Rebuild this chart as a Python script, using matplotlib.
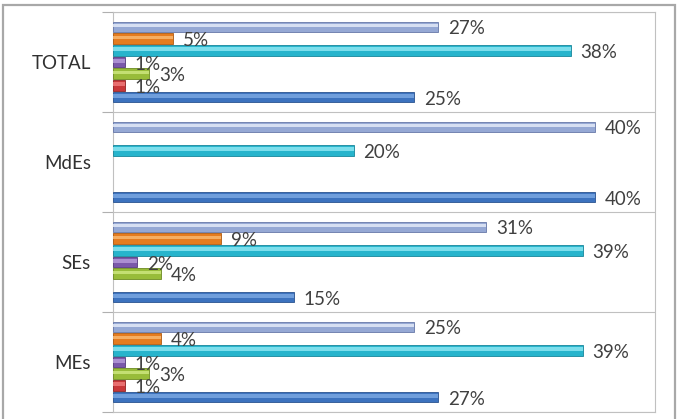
import matplotlib.pyplot as plt
from matplotlib.patches import Rectangle
import numpy as np

# categories from bottom to top
categories = ['MEs', 'SEs', 'MdEs', 'TOTAL']

# series from bottom bar to top bar in each group (values in %)
s_blue = [27, 15, 40, 25]
s_red = [1, 0, 0, 1]
s_green = [3, 4, 0, 3]
s_purple = [1, 2, 0, 1]
s_cyan = [39, 39, 20, 38]
s_orange = [4, 9, 0, 5]
s_light = [25, 31, 40, 27]

series = [s_blue, s_red, s_green, s_purple, s_cyan, s_orange, s_light]
# base colour, highlight colour, edge colour
colors = [
    ('#3C72BE', '#79A6E2', '#2A5390'),
    ('#C8373A', '#EE7A7A', '#8E2224'),
    ('#98BC3A', '#CDE67E', '#6C8A22'),
    ('#7A58AA', '#B49AD8', '#54397E'),
    ('#27B4CC', '#8CE6F2', '#17869A'),
    ('#E57C1F', '#F9B870', '#AE5A10'),
    ('#95A8D4', '#E2EAF8', '#6677A8'),
]

fig = plt.figure(figsize=(6.78, 4.19), dpi=100)
fig.patches.append(Rectangle((3 / 678, -0.05), 672 / 678, 1 - 5 / 419 + 0.05,
                             transform=fig.transFigure, fill=False,
                             edgecolor='#a8a8a8', linewidth=1.6))

ax = fig.add_axes([113 / 678, 1 - 412 / 419, (655 - 113) / 678, (412 - 12) / 419])

y = np.arange(len(categories))
step = 0.117
h = 0.105
for i, (vals, (c, hl, ec)) in enumerate(zip(series, colors)):
    pos = y + (i - 3) * step
    edges = [ec if v > 0 else 'none' for v in vals]
    ax.barh(pos, vals, height=h, color=c, edgecolor=edges, linewidth=0.6, zorder=3)
    # lighter upper stripe for the cylinder look
    ax.barh(pos + h * 0.12, vals, height=h * 0.35, color=hl, linewidth=0,
            alpha=0.85, zorder=4)
    for p, v in zip(pos, vals):
        if v > 0:
            ax.text(v + 0.8, p - 0.02, f'{v}%', va='center', ha='left',
                    fontsize=13.5, color='#404040', family='Lato', zorder=5)

ax.set_xlim(0, 45)
ax.set_ylim(-0.5, 3.5)
ax.set_xticks([])

ax.set_yticks(np.arange(-0.5, 4, 1))
ax.set_yticklabels([])
ax.tick_params(axis='y', which='major', length=8, color='#b0b0b0', width=0.8)
ax.set_yticks(y, minor=True)
ax.set_yticklabels(categories, minor=True, fontsize=13.5, family='Lato',
                   color='#303030')
ax.tick_params(axis='y', which='minor', length=0, pad=16)
ax.grid(axis='y', which='major', color='#c0c0c0', linewidth=0.8, zorder=0)

for sp in ax.spines.values():
    sp.set_color('#c0c0c0')
    sp.set_linewidth(0.8)

fig.savefig('out.png', dpi=100)
